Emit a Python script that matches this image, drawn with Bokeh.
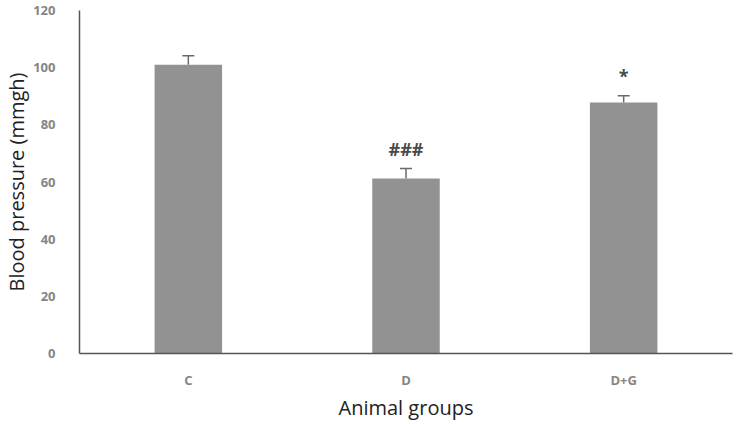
from bokeh.plotting import figure
from bokeh.models import ColumnDataSource, Whisker, TeeHead, FactorRange, Range1d
from bokeh.core.properties import value
from bokeh.embed import file_html
from bokeh.resources import INLINE

groups = ["C", "D", "D+G"]
means = [101.0, 61.2, 87.8]
errors = [3.2, 3.5, 2.4]
marks = ["", "###", "*"]
y_ticks = [0, 20, 40, 60, 80, 100, 120]

upper = [m + e for m, e in zip(means, errors)]
mark_y = [u + 7 for u in upper]

src = ColumnDataSource(dict(g=groups, m=means, up=upper, lab=marks, ly=mark_y))

p = figure(x_range=FactorRange(*groups), y_range=Range1d(0, 120),
           width=738, height=424, output_backend="svg", toolbar_location=None,
           min_border_top=10, min_border_bottom=71, min_border_left=79, min_border_right=6)
p.x_range.range_padding = 0

p.vbar(x="g", top="m", width=0.31, source=src, fill_color="#929292", line_color=None)

w = Whisker(base="g", lower="m", upper="up", source=src, line_color="#6a6a6a", line_width=1.5,
            lower_head=None, upper_head=TeeHead(size=12, line_color="#6a6a6a", line_width=1.5))
p.add_layout(w)

p.text(x="g", y="ly", text="lab", source=src, text_align="center", text_baseline="middle",
       text_font=value("Open Sans"), text_font_size="18px", text_font_style="bold",
       text_color="#4a4a4a")

p.grid.visible = False
p.outline_line_color = None
p.background_fill_color = "white"
p.border_fill_color = "white"

for ax in (p.xaxis[0], p.yaxis[0]):
    ax.axis_line_color = "#555555"
    ax.axis_line_width = 1.5
    ax.major_tick_line_color = None
    ax.minor_tick_line_color = None
    ax.major_tick_out = 0
    ax.major_tick_in = 0
    ax.major_label_text_font = "Open Sans"
    ax.major_label_text_font_style = "bold"
    ax.major_label_text_color = "#858585"
    ax.axis_label_text_font = "Open Sans"
    ax.axis_label_text_font_style = "normal"
    ax.axis_label_text_color = "#222222"
    ax.axis_label_text_font_size = "20px"

p.yaxis[0].ticker = y_ticks
p.yaxis[0].major_label_text_font_size = "13px"
p.yaxis[0].major_label_standoff = 24
p.yaxis[0].axis_label = "Blood pressure (mmgh)"
p.yaxis[0].axis_label_standoff = 0

p.xaxis[0].major_label_text_font_size = "13px"
p.xaxis[0].major_label_standoff = 17
p.xaxis[0].axis_label = "Animal groups"
p.xaxis[0].axis_label_standoff = 2

open("out.html", "w").write(file_html(p, INLINE))
